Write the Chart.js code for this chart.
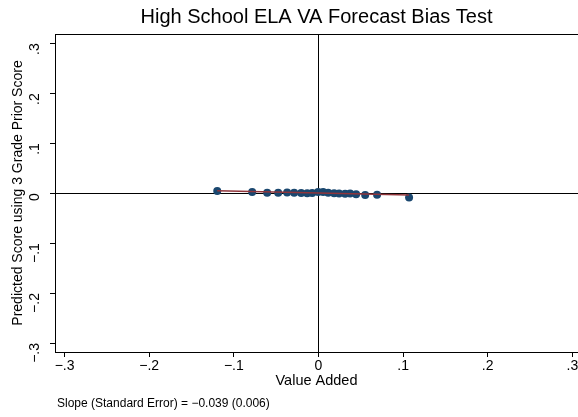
<!DOCTYPE html>
<html>
<head>
<meta charset="utf-8">
<script src="https://cdn.jsdelivr.net/npm/chart.js@4/dist/chart.umd.min.js"></script>
<style>
html,body{margin:0;padding:0;background:#fff;}
#wrap{width:578px;height:417px;position:relative;}
</style>
</head>
<body>
<div id="wrap"><canvas id="c" width="578" height="417"></canvas></div>
<script>
// Binned scatter: value added (x) vs predicted score (y)
const valueAdded = [-0.1196,-0.0783,-0.0606,-0.0476,-0.0370,-0.0287,-0.0204,-0.0133,-0.0074,-0.0004,0.0055,0.0115,0.0185,0.0244,0.0315,0.0374,0.0445,0.0552,0.0693,0.1071];
const predictedScore = [0.0045,0.0025,0.0010,0.0008,0.0012,0.0010,0.0005,0.0000,0.0003,0.0025,0.0022,0.0010,0.0000,-0.0005,-0.0010,-0.0008,-0.0020,-0.0035,-0.0030,-0.0085];
const fitSlope = -0.039;
const fitIntercept = 0.0003;
const tickValues = [-0.3,-0.2,-0.1,0,0.1,0.2,0.3];
const tickLabels = ['\u2212.3','\u2212.2','\u2212.1','0','.1','.2','.3'];
const titleText = 'High School ELA VA Forecast Bias Test';
const xTitle = 'Value Added';
const yTitle = 'Predicted Score using 3 Grade Prior Score';
const noteText = 'Slope (Standard Error) = \u22120.039 (0.006)';

const FONT = '"Liberation Sans", Arial, Helvetica, sans-serif';
const points = valueAdded.map((x,i)=>({x:x,y:predictedScore[i]}));
const xLo = Math.min(...valueAdded), xHi = Math.max(...valueAdded);
const fitLine = [{x:xLo,y:fitIntercept+fitSlope*xLo},{x:xHi,y:fitIntercept+fitSlope*xHi}];

function labelFor(v){
  const i = tickValues.findIndex(t=>Math.abs(t-v)<1e-9);
  return i>=0 ? tickLabels[i] : '';
}

const framePlugin = {
  id:'frame',
  afterDraw(chart){
    const ctx = chart.ctx, a = chart.chartArea;
    ctx.save();
    ctx.strokeStyle = '#000';
    ctx.lineWidth = 1;
    ctx.strokeRect(a.left+0.5, a.top+0.5, a.right-a.left, a.bottom-a.top);
    ctx.fillStyle = '#000';
    ctx.textBaseline = 'middle';
    ctx.textAlign = 'center';
    ctx.font = '20px ' + FONT;
    ctx.fillText(titleText, (a.left+a.right)/2, 17);
    ctx.textAlign = 'left';
    ctx.font = '12px ' + FONT;
    ctx.fillText(noteText, 57, 404);
    ctx.restore();
  }
};

new Chart(document.getElementById('c'), {
  type:'scatter',
  data:{
    datasets:[
      {
        type:'line',
        data:fitLine,
        borderColor:'#90353b',
        borderWidth:1.5,
        pointRadius:0,
        fill:false,
        order:0
      },
      {
        data:points,
        backgroundColor:'#1a476f',
        borderColor:'#1a476f',
        pointRadius:4,
        borderWidth:0,
        order:1
      }
    ]
  },
  options:{
    responsive:false,
    animation:false,
    devicePixelRatio:1,
    layout:{autoPadding:false,padding:{left:10,right:0,top:34,bottom:27}},
    plugins:{legend:{display:false},title:{display:false},tooltip:{enabled:false}},
    scales:{
      x:{
        type:'linear',
        min:-0.3113,
        max:0.3067,
        afterBuildTicks(s){ s.ticks = tickValues.map(v=>({value:v})); },
        afterFit(s){ s.height = 38; s.paddingLeft = 0; s.paddingRight = 0; },
        border:{display:true,color:'#000',width:1},
        grid:{
          color:(c)=> (c.tick && Math.abs(c.tick.value)<1e-9) ? '#000' : 'rgba(0,0,0,0)',
          tickColor:'#000',
          tickLength:5,
          lineWidth:1,
          drawOnChartArea:true
        },
        ticks:{
          color:'#000',
          font:{family:FONT,size:14},
          padding:1,
          maxRotation:0,
          minRotation:0,
          callback:(v)=>labelFor(v)
        },
        title:{display:true,text:xTitle,color:'#000',font:{family:FONT,size:14.5},padding:{top:0,bottom:0}}
      },
      y:{
        type:'linear',
        min:-0.318,
        max:0.3186,
        afterBuildTicks(s){ s.ticks = tickValues.map(v=>({value:v})); },
        afterFit(s){ s.width = 45; s.paddingTop = 0; s.paddingBottom = 0; },
        border:{display:true,color:'#000',width:1},
        grid:{
          color:(c)=> (c.tick && Math.abs(c.tick.value)<1e-9) ? '#000' : 'rgba(0,0,0,0)',
          tickColor:'#000',
          tickLength:5,
          lineWidth:1,
          drawOnChartArea:true
        },
        ticks:{
          color:'#000',
          font:{family:FONT,size:14},
          padding:15,
          minRotation:90,
          maxRotation:90,
          callback:(v)=>labelFor(v)
        },
        title:{display:true,text:yTitle,color:'#000',font:{family:FONT,size:14},padding:{top:0,bottom:0}}
      }
    }
  },
  plugins:[framePlugin]
});
</script>
</body>
</html>
